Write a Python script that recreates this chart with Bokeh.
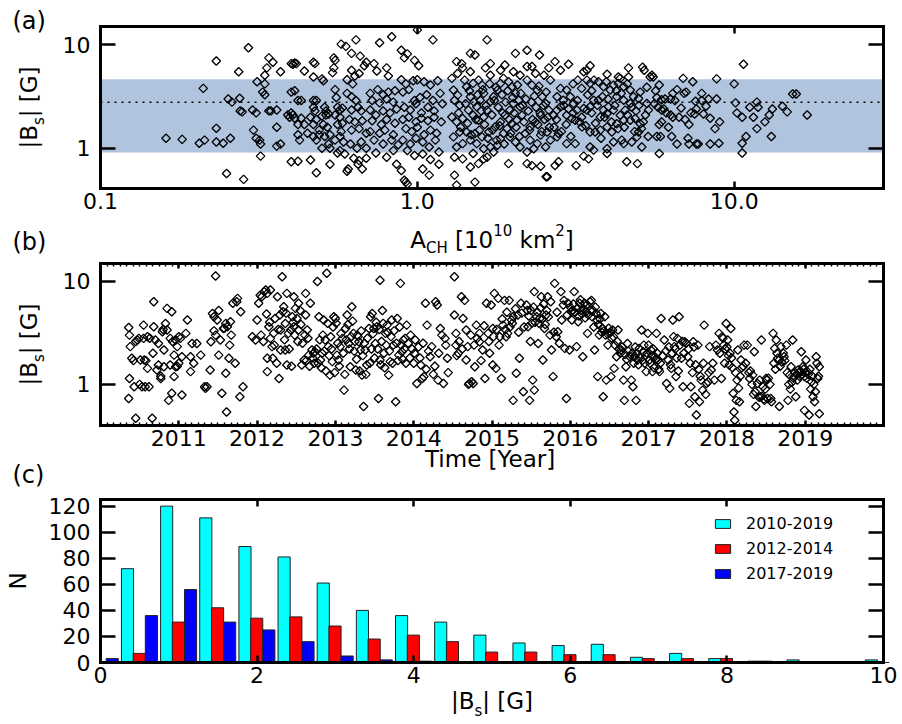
import math
from bokeh.plotting import figure
from bokeh.models import (Label, BoxAnnotation, LinearAxis, LogAxis, FixedTicker,
                          Range1d, Legend, LegendItem, PrintfTickFormatter)
from bokeh.layouts import column
from bokeh.embed import file_html
from bokeh.resources import INLINE

FONT = "DejaVu Sans"

# ---------------- Panel (a): |Bs| versus coronal hole area (A_CH [1e10 km^2], |Bs| [G])
panel_a_pairs = [
    (0.161,1.25),(0.181,1.22),(0.205,1.12),(0.213,1.2),(0.232,1.15),(0.244,1.12),(0.232,1.56),(0.257,1.25),
    (0.211,3.8),(0.232,7.0),(0.25,0.57),(0.283,0.5),(0.293,9.4),(0.273,5.5),
    (0.253,3.0),(0.26,2.8),(0.275,3.05),(0.276,2.3),(0.28,2.25),(0.302,2.35),(0.31,2.2),(0.312,4.4),(0.32,0.84),
    (0.304,1.5),(0.31,1.25),(0.318,1.2),(0.32,1.1),(0.33,4.2),(0.33,5.1),(0.335,6.0),(0.34,7.5),(0.35,6.8),
    (0.33,3.3),(0.325,3.5),(0.34,2.3),(0.345,2.3),(0.36,2.35),(0.36,1.6),(0.36,1.05),(0.37,1.1),(0.37,5.5),
    (0.39,2.1),(0.395,2.0),(0.40,6.6),(0.405,6.5),(0.40,3.5),
    (0.41,6.7),(0.415,6.6),(0.41,3.6),(0.42,2.9),(0.43,2.9),(0.40,2.2),(0.405,2.1),(0.41,1.95),(0.43,1.95),
    (0.42,1.7),(0.44,1.7),(0.42,1.35),(0.425,1.2),(0.40,0.74),(0.42,0.75),(0.46,0.77),(0.44,5.6),(0.47,4.9),
    (0.47,6.8),(0.475,6.6),(0.47,2.9),(0.48,2.9),(0.47,2.5),(0.475,2.3),(0.46,2.0),(0.48,1.9),(0.47,1.7),
    (0.49,1.5),(0.45,1.4),(0.47,1.3),(0.48,1.2),(0.48,0.58),(0.50,4.7),(0.505,4.5),(0.51,2.5),(0.515,2.3),
    (0.50,2.05),(0.515,2.1),(0.525,2.15),(0.505,1.7),(0.52,1.6),(0.49,1.35),(0.51,1.3),(0.53,1.35),(0.50,1.0),
    (0.525,1.1),(0.53,1.0),(0.53,0.7),(0.545,7.5),(0.55,7.1),(0.545,6.0),(0.54,5.4),(0.55,3.7),(0.555,3.1),
    (0.56,2.5),(0.57,2.35),(0.58,2.45),(0.55,2.1),(0.57,2.0),(0.56,1.7),(0.58,1.75),(0.575,1.45),(0.55,1.2),
    (0.57,1.3),(0.585,1.15),(0.56,0.9),(0.57,0.95),(0.59,0.88),(0.60,0.6),(0.605,0.63),(0.575,10.2),(0.595,9.7),
    (0.62,8.3),(0.64,11.2),(0.66,7.8),(0.69,6.8),(0.68,6.3),(0.62,5.7),(0.635,5.0),(0.655,5.3),(0.60,4.6),
    (0.625,4.2),(0.60,3.4),(0.62,3.15),(0.64,2.9),(0.62,2.35),(0.65,2.5),(0.665,2.3),(0.61,1.9),(0.635,1.8),
    (0.67,1.85),(0.62,1.5),(0.655,1.55),(0.69,1.4),(0.615,1.1),(0.645,1.0),(0.665,1.15),(0.69,1.0),(0.63,0.8),
    (0.655,0.76),(0.69,0.8),(0.65,0.7),(0.67,0.63),
    (0.73,6.6),(0.76,10.5),(0.745,5.6),(0.80,6.0),(0.83,12.0),(0.81,5.0),(0.71,3.4),(0.75,3.7),(0.78,3.3),
    (0.81,3.5),(0.85,3.6),(0.72,2.9),(0.76,2.75),(0.80,3.0),(0.84,2.8),(0.71,2.35),(0.74,2.1),(0.78,2.3),
    (0.82,2.2),(0.86,2.4),(0.72,1.85),(0.77,1.7),(0.80,1.9),(0.85,1.75),(0.71,1.45),(0.76,1.4),(0.79,1.5),
    (0.84,1.35),(0.73,1.2),(0.78,1.1),(0.83,1.2),(0.87,1.08),(0.74,0.9),(0.80,0.82),(0.84,0.95),(0.86,0.7),
    (0.89,0.61),(0.91,0.49),(0.92,0.47),(0.93,0.45),(0.89,8.9),(0.91,7.5),(0.93,8.2),(0.98,7.1),(1.01,6.3),
    (1.12,11.2),(1.0,14.0),(0.89,4.6),(0.92,4.2),(0.97,4.5),(1.0,4.6),(1.05,4.4),(1.10,4.1),(1.16,4.5),
    (0.90,3.5),(0.94,3.7),(0.98,2.9),(1.02,3.1),(1.07,3.3),(1.12,2.9),(1.18,3.4),(0.91,2.5),(0.95,2.35),
    (0.99,2.7),(1.03,2.2),(1.08,2.5),(1.13,2.3),(1.20,2.7),(0.90,1.9),(0.94,2.0),(0.99,1.8),(1.03,1.95),
    (1.08,1.85),(1.13,2.0),(1.19,1.8),(0.92,1.55),(0.96,1.45),(1.00,1.6),(1.05,1.35),(1.10,1.5),(1.15,1.4),
    (0.90,1.2),(0.95,1.1),(0.99,1.25),(1.04,1.15),(1.09,1.03),(1.14,1.2),(0.93,0.95),(0.98,0.85),(1.04,0.88),
    (1.10,0.78),(1.17,0.92),(1.04,0.63),(1.09,0.55),(1.17,0.7),
    (1.30,3.66),(1.31,2.92),(1.34,3.27),(1.36,2.61),(1.285,2.01),(1.33,1.80),(1.39,1.94),(1.45,2.34),(1.47,3.15),
    (1.43,3.94),(1.41,4.57),(1.50,4.25),(1.56,4.57),(1.60,4.09),(1.62,3.4),(1.58,2.92),(1.54,2.52),(1.50,2.09),
    (1.56,1.87),(1.62,2.01),(1.66,2.34),(1.70,2.82),(1.74,3.15),(1.79,3.66),(1.83,4.25),(1.87,4.75),(1.94,4.4),
    (1.99,3.94),(2.04,3.4),(2.09,2.92),(2.11,2.52),(2.14,2.09),(2.06,1.87),(1.99,1.73),(1.92,1.55),(1.87,1.39),
    (1.83,1.24),(1.79,1.07),(1.70,1.03),(1.62,0.99),(1.54,1.11),(1.47,1.20),(1.39,1.11),(1.33,1.03),(1.30,1.29),
    (1.36,1.44),(1.43,1.44),(1.52,1.39),(1.60,1.29),(1.68,1.44),(1.76,1.61),(1.83,1.80),(1.89,2.09),(1.96,2.34),
    (2.01,2.71),(2.22,4.57),(2.30,4.09),(2.39,3.66),(2.48,3.15),(2.54,2.71),(2.60,2.34),(2.45,2.09),(2.36,1.80),
    (2.27,1.61),(2.19,1.39),(2.27,1.20),(2.39,1.11),(2.54,1.03),(2.63,1.20),(2.57,1.44),(2.45,1.34),(2.33,0.99),
    (2.22,0.92),(2.11,1.03),(2.04,1.15),(1.96,1.29),(1.74,0.92),(1.66,0.82),(1.50,0.89),(1.39,0.79),(1.31,0.82),
    (1.94,0.71),(2.22,0.71),(2.30,0.68),(2.45,0.67),(2.57,0.53),(1.31,0.55),(1.33,0.44),(1.52,0.47),(1.47,0.66),
    (1.56,0.71),(1.62,0.79),(2.22,6.2),(2.11,5.1),(2.01,5.5),(2.36,5.3),(2.51,5.1),(2.63,4.57),(1.70,5.1),
    (1.64,6.0),(1.47,5.5),(1.39,6.0),(1.34,5.3),(1.285,4.75),(1.33,6.9),(1.38,6.6),(1.47,8.3),(1.52,8.0),
    (1.66,11.2),(1.70,6.6),(1.83,5.7),(1.89,6.4),(2.04,8.3),(2.22,8.9),(2.30,6.2),(2.43,8.0),(2.60,6.0),(2.72,6.9),
    (1.35,2.2),(1.37,1.6),(1.42,2.7),(1.44,1.75),(1.46,3.6),(1.48,1.35),(1.51,2.8),(1.53,1.9),(1.55,3.3),
    (1.57,1.5),(1.59,2.3),(1.61,3.7),(1.63,1.7),(1.65,2.6),(1.67,1.25),(1.69,4.2),(1.72,2.1),(1.73,1.5),
    (1.75,2.9),(1.77,3.9),(1.78,1.2),(1.80,2.5),(1.82,1.65),(1.85,3.3),(1.86,2.2),(1.88,1.1),(1.90,2.8),
    (1.93,3.6),(1.95,1.9),(1.97,1.4),(2.00,3.1),(2.02,2.2),(2.05,1.6),(2.07,4.1),(2.10,1.3),(2.12,3.4),
    (2.15,2.6),(2.17,1.8),(2.20,3.0),(2.24,2.3),(2.26,1.5),(2.29,2.8),(2.31,1.9),(2.34,3.2),(2.37,2.5),
    (2.40,1.7),(2.42,4.0),(2.44,2.2),(2.47,1.45),(2.50,2.6),(2.52,1.9),(2.55,3.5),(2.58,2.0),(2.61,1.6),
    (4.64,6.0),(5.14,6.1),(5.20,5.7),(5.43,4.9),(3.97,5.2),(4.31,4.9),(4.37,4.75),(4.64,4.9),(3.51,6.3),
    (3.43,5.7),(3.35,5.5),(3.21,4.57),(3.0,6.5),(2.83,5.7),
    (3.43,4.57),(3.51,4.25),(3.61,4.57),(3.73,4.4),(3.87,3.94),(3.84,3.15),(3.73,2.92),(3.60,2.92),(3.51,2.52),
    (3.43,2.34),(3.35,2.43),(3.19,2.34),(3.11,2.71),(3.04,3.15),(2.96,3.66),(2.83,3.8),(2.76,3.15),(2.89,2.92),
    (2.83,2.52),(2.76,2.34),(2.69,2.09),(2.96,2.09),(3.07,1.94),(3.15,1.87),(3.31,1.61),(3.51,1.44),(3.64,1.44),
    (3.78,1.50),(3.97,1.61),(4.11,1.44),(4.26,1.73),(4.48,1.87),(4.70,1.87),(4.87,1.94),(5.05,1.73),(5.17,1.80),
    (5.36,2.34),(5.30,2.71),(4.99,3.03),(4.81,3.15),(4.70,3.66),(4.48,3.94),(4.31,4.25),(4.16,4.09),(4.06,3.66),
    (4.26,3.15),(4.48,2.92),(4.70,2.71),(4.53,2.34),(4.37,2.09),(4.16,2.34),(4.01,2.52),(3.87,2.34),(3.78,2.01),
    (3.97,2.17),(2.79,1.39),(2.76,1.29),(2.96,1.11),(3.15,1.11),(3.51,1.03),(3.60,0.96),(3.97,0.89),(3.97,0.99),
    (4.16,1.15),(4.42,1.20),(4.48,1.11),(4.93,1.29),(4.99,1.44),(5.11,1.03),(4.75,1.15),(4.58,0.74),(4.95,0.71),
    (3.17,0.68),(3.35,0.84),(3.47,0.79),(2.72,0.68),(2.79,0.74),(2.55,0.53),
    (2.7,1.6),(2.75,1.9),(2.85,1.45),(2.9,2.6),(2.95,1.7),(3.0,2.4),(3.05,1.3),(3.1,2.2),(3.2,2.9),(3.25,1.8),
    (3.3,2.0),(3.4,1.65),(3.45,3.3),(3.55,2.2),(3.65,1.75),(3.7,2.6),(3.8,1.25),(3.9,2.0),(4.0,3.0),(4.1,1.8),
    (4.2,2.6),(4.3,1.55),(4.4,3.4),(4.5,1.6),(4.6,2.1),(4.75,2.5),(4.85,1.45),(4.9,2.3),(5.0,2.6),(5.1,1.55),
    (5.25,2.1),(5.35,1.3),(3.1,4.2),(3.3,3.8),(3.55,3.6),(3.95,4.4),(4.25,3.6),(4.6,4.2),(5.05,3.5),(5.3,3.9),
    (5.5,5.1),(5.55,4.9),(5.8,4.1),(5.7,3.1),(5.9,2.95),(6.05,3.0),(5.75,2.5),(5.9,2.35),(6.0,2.4),(5.9,1.8),
    (5.8,1.7),(5.7,1.3),(5.85,1.3),(5.8,0.89),(6.3,3.0),(6.4,3.4),(6.5,2.9),(6.3,2.1),(6.4,2.0),(6.35,1.3),
    (6.6,1.1),(6.8,2.45),(6.95,3.4),(7.05,3.5),(6.9,4.75),(7.2,1.7),(7.15,1.25),(7.2,1.1),(7.3,2.2),(7.5,2.15),
    (7.55,2.85),(7.4,4.4),(7.9,3.4),(7.6,1.1),(7.7,1.1),(8.0,2.15),(8.15,2.55),(8.3,3.0),(8.4,1.95),(8.4,1.1),
    (8.8,4.7),(8.8,3.0),(8.7,1.55),(9.0,1.8),(8.95,1.12),(5.6,2.7),(6.1,2.2),(6.2,1.6),(6.7,2.0),(7.0,1.9),
    (7.6,2.4),(5.65,3.6),(6.6,3.7),(7.9,2.9),
    (10.7,6.5),(10.0,4.2),(10.1,2.75),(10.2,2.2),(10.6,2.0),(10.6,1.12),(10.6,0.9),(10.9,1.3),(11.2,2.5),
    (11.8,2.8),(11.9,2.5),(11.5,2.0),(11.8,1.55),(12.5,1.8),(12.9,2.1),(13.2,2.4),(13.1,1.3),(14.2,2.55),
    (14.7,2.25),(15.3,3.35),(15.7,3.35),(17.0,2.1),
]
area_ch = [p[0] for p in panel_a_pairs]
bs_area = [p[1] for p in panel_a_pairs]
bs_mean = 2.79     # dotted line
band_low = 0.91    # shaded band (mean - sigma)
band_high = 4.67   # shaded band (mean + sigma)

# ---------------- Panel (b): |Bs| versus time (decimal year, |Bs| [G])
panel_b_pairs = [
    (2010.36,3.56),(2010.37,3.0),(2010.38,2.32),(2010.40,1.79),(2010.37,1.14),(2010.36,0.73),(2010.43,0.95),
    (2010.45,0.47),(2010.47,2.69),(2010.49,2.79),(2010.51,1.72),(2010.53,0.95),(2010.55,3.75),(2010.55,2.79),
    (2010.56,1.72),(2010.57,0.95),(2010.60,1.43),(2010.60,2.89),(2010.62,0.95),(2010.66,0.47),(2010.67,2.0),
    (2010.68,6.3),(2010.68,3.61),(2010.70,2.69),(2010.72,1.38),(2010.74,2.49),(2010.74,1.54),(2010.77,1.14),
    (2010.79,3.23),(2010.81,2.15),(2010.81,1.48),(2010.83,3.89),(2010.85,3.36),(2010.85,5.44),(2010.87,0.70),
    (2010.89,2.79),(2010.89,1.54),(2010.91,0.82),(2010.91,5.05),(2010.94,1.19),(2010.94,1.92),(2010.96,2.69),
    (2010.96,1.48),(2010.98,2.32),(2011.0,2.89),(2011.0,1.6),(2011.02,2.79),(2011.04,0.79),(2011.04,1.85),
    (2011.09,3.12),(2011.11,4.2),(2011.15,1.85),(2011.15,1.33),(2011.17,2.49),(2011.19,1.6),(2011.23,2.49),
    (2011.28,1.92),(2011.33,0.95),(2011.34,0.915),(2011.36,0.95),(2011.40,1.38),(2011.41,2.59),(2011.43,4.86),
    (2011.45,4.52),(2011.47,11.2),(2011.47,3.0),(2011.49,4.2),(2011.51,5.2),(2011.51,1.92),(2011.53,2.69),
    (2011.55,0.82),(2011.57,3.48),(2011.60,3.89),(2011.60,1.28),(2011.61,0.54),(2011.62,3.61),(2011.64,1.79),
    (2011.66,4.04),(2011.67,3.0),(2011.69,6.1),(2011.72,1.6),(2011.74,6.3),(2011.75,6.8),(2011.78,0.76),
    (2011.79,5.05),(2011.82,0.95),
    (2010.42,1.7),(2010.45,2.6),(2010.50,1.0),(2010.58,1.7),(2010.63,2.8),(2010.77,1.2),(2010.80,3.4),
    (2010.92,2.6),(2010.98,1.5),(2011.45,3.3),(2011.58,3.5),(2011.65,2.4),
    (2011.94,2.89),(2011.98,2.69),(2012.0,4.2),(2012.02,6.1),(2012.04,7.3),(2012.06,7.05),(2012.09,7.9),
    (2012.11,8.2),(2012.13,7.6),(2012.17,8.2),(2012.17,2.79),(2012.13,1.33),(2012.13,1.79),(2012.15,3.61),
    (2012.19,2.32),(2012.20,1.79),(2012.21,3.12),(2012.23,4.35),(2012.26,7.05),(2012.28,1.14),(2012.30,3.36),
    (2012.30,2.15),(2012.32,11.0),(2012.33,5.05),(2012.34,5.65),(2012.36,3.89),(2012.36,2.15),(2012.38,7.6),
    (2012.38,1.54),(2012.40,3.12),(2012.43,3.36),(2012.45,4.52),(2012.47,7.05),(2012.47,3.61),(2012.49,5.44),
    (2012.51,4.35),(2012.53,3.36),(2012.53,6.1),(2012.55,5.2),(2012.57,1.54),(2012.60,1.72),(2012.62,7.6),
    (2012.62,4.69),(2012.64,3.36),(2012.66,1.92),(2012.68,6.1),(2012.70,2.15),(2012.72,2.0),(2012.74,2.07),
    (2012.77,9.9),(2012.79,4.52),(2012.81,1.72),(2012.83,2.0),(2012.85,4.2),(2012.87,2.69),(2012.89,11.9),
    (2012.91,2.32),(2012.93,1.23),(2012.94,2.89),(2012.96,1.66),(2012.98,4.52),(2013.0,4.35),(2013.02,1.92),
    (2013.04,1.72),(2013.06,2.32),(2013.09,2.79),(2013.11,0.88),(2013.13,3.48),(2013.15,4.69),(2013.17,2.49),
    (2013.19,1.48),(2013.21,5.65),(2013.23,3.12),(2013.26,1.38),(2013.28,3.0),(2013.30,2.59),(2013.32,2.15),
    (2013.34,1.23),(2013.36,0.61),(2013.38,2.15),(2013.40,1.54),(2013.43,3.48),(2013.45,4.52),(2013.47,4.86),
    (2013.49,3.48),(2013.51,2.49),(2013.53,3.61),(2013.55,0.73),(2013.57,10.2),(2013.57,1.72),(2013.60,5.2),
    (2013.62,2.0),(2013.64,3.12),(2013.66,3.75),(2013.68,1.23),(2013.70,1.66),(2013.72,4.2),(2013.74,2.40),
    (2013.77,0.68),(2013.79,4.35),(2013.81,1.92),(2013.83,9.5),(2013.85,2.07),(2013.87,2.69),(2013.89,2.79),
    (2013.91,3.75),(2013.96,3.0),(2014.0,1.6),(2014.02,2.69),(2014.04,1.02),(2014.09,1.54),(2014.11,1.14),
    (2014.13,1.19),(2014.15,6.1),(2014.17,3.75),(2014.21,1.85),(2014.23,2.32),(2014.28,6.3),(2014.30,5.86),
    (2014.32,2.0),(2014.34,3.48),(2014.38,1.02),(2014.40,2.79),(2014.43,1.79),
    (2012.05,3.0),(2012.08,2.6),(2012.12,4.8),(2012.16,4.0),(2012.22,2.4),(2012.25,1.6),(2012.27,3.4),
    (2012.29,4.7),(2012.35,2.7),(2012.37,4.9),(2012.41,2.2),(2012.44,1.5),(2012.46,4.0),(2012.48,3.0),
    (2012.52,2.6),(2012.56,3.8),(2012.58,2.5),(2012.61,3.0),(2012.63,1.7),(2012.65,2.8),(2012.67,1.5),
    (2012.71,1.8),(2012.73,1.6),(2012.76,2.2),(2012.78,1.6),(2012.80,2.7),(2012.82,1.45),(2012.84,3.0),
    (2012.86,2.1),(2012.88,1.35),(2012.90,3.9),(2012.92,1.9),(2012.95,2.2),(2012.97,3.6),(2012.99,1.3),
    (2013.01,3.9),(2013.03,2.5),(2013.05,1.5),(2013.07,3.1),(2013.10,2.0),(2013.12,1.25),(2013.14,2.7),
    (2013.16,3.8),(2013.18,2.2),(2013.20,2.9),(2013.22,4.1),(2013.24,2.1),(2013.25,2.6),(2013.27,1.75),
    (2013.29,2.9),(2013.31,1.35),(2013.33,3.3),(2013.35,1.9),(2013.37,2.5),(2013.39,1.25),(2013.41,2.8),
    (2013.44,1.6),(2013.46,2.2),(2013.48,3.1),(2013.50,1.8),(2013.52,4.0),(2013.54,2.2),(2013.56,3.4),
    (2013.58,1.55),(2013.59,2.6),(2013.61,3.9),(2013.63,1.45),(2013.65,2.4),(2013.67,3.2),(2013.69,2.1),
    (2013.71,2.9),(2013.73,1.6),(2013.75,3.3),(2013.78,2.5),(2013.80,1.7),(2013.82,3.6),(2013.84,2.4),
    (2013.86,1.75),(2013.88,2.2),(2013.90,1.6),(2013.93,2.5),(2013.95,1.8),(2013.98,2.2),(2014.01,2.0),
    (2014.06,2.3),(2014.08,1.8),(2014.12,2.5),(2014.16,1.4),(2014.19,2.1),(2014.25,1.25),(2014.27,1.5),
    (2014.31,1.1),(2014.36,3.0),(2014.41,2.4),(2014.44,1.3),
    (2014.52,11.0),(2014.52,4.69),(2014.54,3.12),(2014.54,2.40),(2014.57,2.0),(2014.61,7.05),(2014.63,4.35),
    (2014.65,6.5),(2014.67,3.36),(2014.67,1.72),(2014.69,2.32),(2014.71,1.02),(2014.74,1.06),(2014.76,1.02),
    (2014.78,1.48),(2014.80,3.75),(2014.81,2.79),(2014.84,3.12),(2014.84,2.59),(2014.88,2.15),(2014.91,1.14),
    (2014.93,6.1),(2014.95,3.12),(2014.97,2.0),(2014.99,5.86),(2015.01,3.48),(2015.01,1.54),(2015.03,7.6),
    (2015.05,1.43),(2015.08,6.8),(2015.10,2.89),(2015.12,1.14),(2015.14,3.75),(2015.16,6.5),(2015.18,2.89),
    (2015.20,3.12),(2015.22,6.5),(2015.25,4.2),(2015.27,4.52),(2015.27,0.70),(2015.31,1.28),(2015.33,4.69),
    (2015.35,1.79),(2015.37,6.1),(2015.40,0.85),(2015.44,5.86),(2015.46,3.61),(2015.48,0.70),(2015.50,5.2),
    (2015.52,1.10),(2015.54,7.9),(2015.54,0.88),(2015.57,4.52),(2015.59,2.49),(2015.61,4.35),(2015.63,7.05),
    (2015.65,1.72),(2015.67,3.48),(2015.69,4.69),(2015.71,7.05),(2015.74,3.0),(2015.76,2.15),(2015.78,1.19),
    (2015.80,9.5),(2015.82,2.89),(2015.84,3.23),(2015.88,7.9),(2015.91,5.86),(2015.93,2.23),(2015.95,0.73),
    (2015.97,6.1),(2015.99,2.15),(2016.01,5.05),(2016.03,5.2),(2016.05,7.9),(2016.08,2.32),(2016.10,4.04),
    (2016.12,6.1),(2016.14,5.2),(2016.16,1.85),(2016.18,6.1),(2016.20,5.05),(2016.22,3.12),(2016.25,6.3),
    (2016.27,6.5),(2016.29,5.2),(2016.31,2.15),(2016.33,4.86),(2016.35,1.19),(2016.37,3.0),(2016.39,4.86),
    (2016.42,0.76),(2016.44,4.52),(2016.45,3.0),(2016.46,1.10),(2016.48,2.40),(2016.50,3.12),(2016.52,1.19),
    (2016.54,3.36),(2016.56,1.43),(2016.59,1.85),(2016.61,3.36),(2016.65,2.15),(2016.69,0.70),(2016.71,1.48),
    (2016.73,2.49),(2016.78,1.10),(2016.80,0.95),(2016.82,1.85),(2016.84,0.70),(2016.86,1.72),(2016.88,2.23),
    (2016.91,3.36),(2016.93,2.07),(2016.95,1.6),(2016.97,1.33),(2016.99,3.12),(2017.01,1.72),(2017.03,2.15),
    (2017.05,1.33),(2017.08,1.85),(2017.10,3.12),(2017.12,1.72),(2017.14,1.33),(2017.16,4.35),(2017.20,2.69),
    (2017.23,1.02),(2017.25,1.72),(2017.27,0.915),(2017.29,1.43),(2017.31,4.2),(2017.33,2.32),(2017.35,1.19),
    (2017.37,2.79),(2017.39,4.52),(2017.42,1.79),(2017.44,0.95),(2017.46,2.59),(2017.50,1.85),(2017.52,0.655),
    (2017.54,0.95),(2017.57,2.59),(2017.59,0.76),(2017.61,0.505),(2017.63,2.40),(2017.65,0.68),(2017.67,1.10),
    (2017.69,0.88),(2017.71,3.75),(2017.74,1.02),(2017.76,1.06),(2017.78,2.32),(2017.80,1.38),(2017.84,1.10),
    (2017.88,2.15),(2017.90,3.12),(2017.93,1.14),(2017.95,2.79),(2017.97,1.6),(2017.99,3.89),(2018.01,2.69),
    (2018.03,1.54),(2018.05,3.48),(2018.08,0.82),(2018.09,0.54),(2018.10,0.45),(2018.12,0.70),(2018.14,2.15),
    (2018.16,0.68),(2018.18,1.72),(2018.22,2.40),(2018.26,2.40),(2018.29,1.14),(2018.33,1.23),(2018.35,2.07),
    (2018.37,0.61),(2018.39,1.02),(2018.42,1.10),(2018.44,2.69),(2018.46,0.95),(2018.48,0.70),(2018.50,1.14),
    (2018.52,0.73),(2018.56,0.73),(2018.59,3.12),(2018.61,2.23),(2018.63,2.69),(2018.65,1.79),(2018.67,0.61),
    (2018.69,2.32),(2018.73,1.85),(2018.76,2.40),(2018.78,0.70),(2018.80,1.23),(2018.82,1.48),(2018.84,2.69),
    (2018.86,1.19),(2018.88,0.76),(2018.91,1.38),(2018.93,1.19),(2018.95,2.07),(2018.97,1.48),(2018.99,1.19),
    (2018.99,0.56),(2019.01,1.72),(2019.03,1.33),(2019.05,0.505),(2019.08,1.06),(2019.10,0.76),(2019.12,0.68),
    (2019.14,1.85),(2019.16,1.14),(2019.18,1.48),(2019.18,0.52),
    (2014.55,1.9),(2014.58,2.6),(2014.62,2.2),(2014.70,1.0),(2014.73,3.0),(2014.77,2.4),(2014.86,1.7),
    (2014.90,3.7),(2014.96,2.6),(2015.02,2.9),(2015.06,3.4),(2015.09,2.4),(2015.13,4.3),(2015.17,3.4),
    (2015.19,5.0),(2015.23,3.6),(2015.26,3.9),(2015.30,5.4),(2015.34,3.2),(2015.38,4.9),(2015.41,3.6),
    (2015.45,5.2),(2015.47,4.6),(2015.49,2.6),(2015.51,3.9),(2015.53,5.6),(2015.55,4.0),(2015.58,5.0),
    (2015.60,3.9),(2015.62,5.5),(2015.64,4.3),(2015.66,6.0),(2015.68,3.8),(2015.70,5.2),(2015.72,4.5),
    (2015.75,6.3),(2015.79,3.2),(2015.83,5.0),(2015.86,2.5),(2015.89,4.2),(2015.92,6.5),(2015.96,4.7),
    (2016.00,5.6),(2016.02,4.2),(2016.04,6.0),(2016.06,5.0),(2016.09,5.5),(2016.11,4.6),(2016.13,6.6),
    (2016.15,4.8),(2016.17,5.4),(2016.19,4.4),(2016.21,5.9),(2016.23,4.7),(2016.26,5.2),(2016.28,4.5),
    (2016.30,3.6),(2016.32,5.6),(2016.34,4.2),(2016.36,3.8),(2016.38,4.3),(2016.40,3.2),(2016.41,3.5),
    (2016.43,3.3),(2016.47,3.1),(2016.49,3.5),(2016.51,3.2),(2016.53,2.8),(2016.55,2.9),(2016.57,2.4),
    (2016.60,2.6),(2016.62,2.2),(2016.64,2.0),(2016.66,2.3),(2016.68,1.1),(2016.70,1.95),(2016.72,1.75),
    (2016.74,2.1),(2016.76,1.85),(2016.79,2.0),(2016.81,1.6),(2016.83,2.3),(2016.85,2.0),(2016.87,1.55),
    (2016.89,1.85),(2016.92,1.7),(2016.94,2.4),(2016.96,1.9),(2016.98,2.0),(2017.00,2.4),(2017.02,1.6),
    (2017.04,1.9),(2017.06,2.2),(2017.07,1.45),(2017.09,1.75),(2017.11,2.0),(2017.13,1.4),(2017.15,1.6),
    (2017.18,1.9),(2017.22,2.1),(2017.26,2.3),(2017.28,1.55),(2017.30,2.0),(2017.32,2.9),(2017.34,2.2),
    (2017.36,1.8),(2017.38,1.35),(2017.40,2.4),(2017.43,2.6),(2017.45,2.0),(2017.48,2.5),(2017.51,2.2),
    (2017.53,1.6),(2017.56,1.3),(2017.58,2.3),(2017.60,1.55),(2017.64,1.4),(2017.66,1.2),(2017.70,1.6),
    (2017.73,0.8),(2017.77,1.3),(2017.82,1.6),(2017.86,2.4),(2017.91,2.0),(2017.94,2.9),(2017.96,2.4),
    (2017.98,2.2),(2018.00,2.3),(2018.02,1.9),(2018.04,2.0),(2018.06,1.8),(2018.07,1.45),(2018.11,1.3),
    (2018.13,1.1),(2018.15,0.92),(2018.17,1.2),(2018.19,1.45),(2018.21,1.5),(2018.24,1.6),(2018.28,1.3),
    (2018.30,1.35),(2018.32,1.0),(2018.34,0.8),(2018.36,0.85),(2018.41,0.75),(2018.43,0.76),(2018.45,0.77),
    (2018.47,0.72),(2018.49,0.9),(2018.51,1.1),(2018.53,1.15),(2018.55,1.0),(2018.57,0.68),(2018.60,1.6),
    (2018.62,1.4),(2018.64,2.0),(2018.66,1.7),(2018.68,1.5),(2018.70,1.65),(2018.72,2.0),(2018.74,1.7),
    (2018.77,1.3),(2018.79,1.0),(2018.81,0.9),(2018.83,1.05),(2018.85,1.15),(2018.87,1.3),(2018.89,1.25),
    (2018.90,1.1),(2018.92,1.3),(2018.94,1.35),(2018.96,1.25),(2018.98,1.4),(2019.00,1.3),(2019.02,1.15),
    (2019.04,1.25),(2019.06,1.4),(2019.07,0.9),(2019.09,1.2),(2019.11,1.0),(2019.13,0.85),(2019.15,1.6),
    (2019.17,1.2),
]
year = [p[0] for p in panel_b_pairs]
bs_time = [p[1] for p in panel_b_pairs]

# ---------------- Panel (c): histograms of |Bs| (bins of 0.5 G)
bin_starts = [0.0, 0.5, 1.0, 1.5, 2.0, 2.5, 3.0, 3.5, 4.0, 4.5,
              5.0, 5.5, 6.0, 6.5, 7.0, 7.5, 8.0, 8.5, 9.0, 9.5]
n_2010_2019 = [72, 120, 111, 89, 81, 61, 40, 36, 31, 21, 15, 13, 14, 4, 7, 3, 1, 2, 0, 2]
n_2012_2014 = [7, 31, 42, 34, 35, 28, 18, 21, 16, 8, 8, 6, 6, 3, 3, 3, 1, 0, 0, 0]
n_2017_2019 = [3, 36, 56, 31, 25, 16, 5, 2, 1, 0, 0, 0, 0, 0, 0, 0, 0, 0, 0, 0]
series_labels = ["2010-2019", "2012-2014", "2017-2019"]

# axis extents (data) of the three plot boxes
a_x, a_y = (0.1, 29.6), (0.408, 15.1)
b_x, b_y = (2010, 2020), (0.40, 14.8)
c_x, c_y = (0, 10), (0, 125.1)

# ---------------- helpers
W = {'A': 0.684, 'C': 0.698, 'H': 0.752, 'B': 0.686, 'G': 0.775, 'N': 0.748, 'T': 0.611, 'Y': 0.611,
     'a': 0.613, 'e': 0.615, 'i': 0.278, 'k': 0.579, 'm': 0.974, 'r': 0.411, 's': 0.521, 'b': 0.635,
     'c': 0.550, ' ': 0.318, '[': 0.390, ']': 0.390, '|': 0.337, '-': 0.361, '(': 0.390, ')': 0.390}
for d in "0123456789":
    W[d] = 0.636

FIG_W = 902
BOX_L, BOX_R = 100, 883   # pixel columns of every plot box
RAISE = 0.22              # baseline correction of Label text (fraction of font size)


def tw(s, size):
    return sum(W.get(c, 0.6) for c in s) * size


def extend(lim, pad_lo, pad_hi, span, log=False):
    lo, hi = lim
    a, b = (math.log10(lo), math.log10(hi)) if log else (lo, hi)
    k = (b - a) / span
    s, e = a - pad_lo * k, b + pad_hi * k
    return (10 ** s, 10 ** e) if log else (s, e)


def add_text(fig, pieces, x, y, rotated=False):
    total = sum(tw(t, s) for t, s, _ in pieces)
    pos = -total / 2.0
    for t, s, d in pieces:
        lead = len(t) - len(t.lstrip(" "))
        pos += lead * W[" "] * s
        t = t.lstrip(" ")
        d = d + RAISE * s
        if rotated:
            lab = Label(x=x - d, y=y + pos, angle=math.pi / 2)
        else:
            lab = Label(x=x + pos, y=y + d)
        lab.x_units = "screen"
        lab.y_units = "screen"
        lab.text = t
        lab.text_font = FONT
        lab.text_font_size = f"{s}px"
        lab.text_color = "black"
        lab.text_align = "left"
        lab.text_baseline = "alphabetic"
        fig.add_layout(lab)
        pos += tw(t, s)


def panel_tag(fig, txt, x, y):
    fig.add_layout(Label(x=x, y=y + RAISE * 24, x_units="screen", y_units="screen", text=txt,
                         text_font=FONT, text_font_size="24px", text_color="black", text_align="left",
                         text_baseline="alphabetic"))


def make_axis(fig, side, cls, ticks, loc, bounds, tick_in, fmt=None, labels=True, standoff=5,
              minor=None, minor_in=0):
    ax = cls(ticker=FixedTicker(ticks=ticks, minor_ticks=minor or []), fixed_location=loc, bounds=bounds)
    ax.axis_line_color = "black"
    ax.axis_line_width = 3
    ax.axis_line_cap = "square"
    ax.major_tick_in = tick_in
    ax.major_tick_out = 0
    ax.major_tick_line_color = "black"
    ax.major_tick_line_width = 2.5
    if minor_in:
        ax.minor_tick_in = minor_in
        ax.minor_tick_out = 0
        ax.minor_tick_line_color = "black"
        ax.minor_tick_line_width = 1.5
    else:
        ax.minor_tick_line_color = None
    if fmt:
        ax.formatter = PrintfTickFormatter(format=fmt)
    ax.major_label_text_font = FONT
    ax.major_label_standoff = standoff
    ax.major_label_text_font_size = "22px"
    ax.major_label_text_color = "black" if labels else None
    fig.add_layout(ax, side)
    return ax


def base_fig(height, top, bottom, xlim, ylim, xlog=False, ylog=False):
    span_y = height - top - bottom
    xr = extend(xlim, BOX_L, FIG_W - BOX_R, BOX_R - BOX_L, xlog)
    yr = extend(ylim, bottom, top, span_y, ylog)
    p = figure(width=FIG_W, height=height, output_backend="svg", toolbar_location=None,
               x_axis_type="log" if xlog else "linear", y_axis_type="log" if ylog else "linear",
               x_axis_location=None, y_axis_location=None,
               x_range=Range1d(*xr), y_range=Range1d(*yr),
               min_border=0, min_border_left=0, min_border_right=0, min_border_top=0, min_border_bottom=0)
    p.xgrid.visible = False
    p.ygrid.visible = False
    p.outline_line_color = None
    p.background_fill_color = "white"
    p.border_fill_color = "white"
    return p


# page layout: panel (a) rows 0-258, (b) rows 258-490, (c) rows 490-724
TA, HA = 0, 258
TB, HB = 258, 232
TC, HC = 490, 234

# ---------------- Panel (a)   (box rows 26-188)
pa = base_fig(HA, 26 - TA, TA + HA - 188, a_x, a_y, xlog=True, ylog=True)
pa.add_layout(BoxAnnotation(left=a_x[0], right=a_x[1], bottom=band_low, top=band_high,
                            fill_color="#B0C4DE", fill_alpha=1.0, line_color=None, level="underlay"))
pa.line(x=list(a_x), y=[bs_mean, bs_mean], line_color="black", line_dash="2 5", line_width=1.5)
pa.scatter(area_ch, bs_area, marker="square", angle=math.pi / 4, size=6, fill_color=None,
           line_color="black", line_width=1.3)
xa_ticks = [0.1, 1.0, 10.0]
b_ticks = [1, 10]
make_axis(pa, "below", LogAxis, xa_ticks, a_y[0], a_x, 7, "%.1f", standoff=4)
make_axis(pa, "above", LogAxis, xa_ticks, a_y[1], a_x, 7, labels=False)
make_axis(pa, "left", LogAxis, b_ticks, a_x[0], a_y, 15, "%d", standoff=10)
make_axis(pa, "right", LogAxis, b_ticks, a_x[1], a_y, 15, labels=False)
add_text(pa, [("A", 23, 0), ("CH", 15, -6), (" [10", 23, 0), ("10", 15, 12), (" km", 23, 0),
              ("2", 15, 12), ("]", 23, 0)], 491.5, HA - (245 - TA))
add_text(pa, [("|B", 23, 0), ("s", 15, -8), ("| [G]", 23, 0)], 34, HA - (107 - TA), rotated=True)
panel_tag(pa, "(a)", 12, HA - (26 - TA))
panel_tag(pa, "(b)", 12, HA - (247 - TA))

# ---------------- Panel (b)   (box rows 263-425)
pb = base_fig(HB, 263 - TB, TB + HB - 425, b_x, b_y, ylog=True)
pb.scatter(year, bs_time, marker="square", angle=math.pi / 4, size=6, fill_color=None,
           line_color="black", line_width=1.3)
year_ticks = [2011, 2012, 2013, 2014, 2015, 2016, 2017, 2018, 2019]
month_ticks = [2010 + m / 12.0 for m in range(121)]
make_axis(pb, "below", LinearAxis, year_ticks, b_y[0], b_x, 5, "%d", standoff=4,
          minor=month_ticks, minor_in=3)
make_axis(pb, "above", LinearAxis, year_ticks, b_y[1], b_x, 5, labels=False,
          minor=month_ticks, minor_in=3)
make_axis(pb, "left", LogAxis, b_ticks, b_x[0], b_y, 15, "%d", standoff=10)
make_axis(pb, "right", LogAxis, b_ticks, b_x[1], b_y, 15, labels=False)
add_text(pb, [("Time [Year]", 23, 0)], 491.5, HB - (463.5 - TB))
add_text(pb, [("|B", 23, 0), ("s", 15, -8), ("| [G]", 23, 0)], 34, HB - (344 - TB), rotated=True)
panel_tag(pb, "(c)", 12, HB - (480 - TB))

# ---------------- Panel (c)   (box rows 499-662)
pc = base_fig(HC, 499 - TC, TC + HC - 662, c_x, c_y)
bar_w = 0.155
x_all = [b + 0.345 for b in bin_starts]
x_mid = [b + 0.495 for b in bin_starts]
x_late = [b + 0.15 for b in bin_starts]
r1 = pc.vbar(x=x_all, top=n_2010_2019, width=bar_w, bottom=0, fill_color="#00FFFF",
             line_color="#222222", line_width=1)
r2 = pc.vbar(x=x_mid, top=n_2012_2014, width=bar_w, bottom=0, fill_color="#FF0000",
             line_color="#222222", line_width=1)
r3 = pc.vbar(x=x_late, top=n_2017_2019, width=bar_w, bottom=0, fill_color="#0000FF",
             line_color="#222222", line_width=1)
xc_ticks = [0, 2, 4, 6, 8, 10]
n_ticks = [0, 20, 40, 60, 80, 100, 120]
make_axis(pc, "below", LinearAxis, xc_ticks, c_y[0], c_x, 7, "%d", standoff=4)
make_axis(pc, "above", LinearAxis, xc_ticks, c_y[1], c_x, 7, labels=False)
make_axis(pc, "left", LinearAxis, n_ticks, c_x[0], c_y, 15, "%d", standoff=10)
make_axis(pc, "right", LinearAxis, n_ticks, c_x[1], c_y, 15, labels=False)
legend = Legend(items=[LegendItem(label=series_labels[0], renderers=[r1]),
                       LegendItem(label=series_labels[1], renderers=[r2]),
                       LegendItem(label=series_labels[2], renderers=[r3])],
                location=(713, HC - (583.5 - TC)), glyph_width=19, glyph_height=11, label_standoff=14,
                label_text_font=FONT, label_text_font_size="16px", label_text_color="black",
                label_height=21, spacing=4, padding=0, margin=0, border_line_color=None,
                background_fill_alpha=0.0)
pc.add_layout(legend, "center")
add_text(pc, [("|B", 23, 0), ("s", 15, -8), ("| [G]", 23, 0)], 491.5, HC - (706 - TC))
add_text(pc, [("N", 23, 0)], 23, HC - (580.5 - TC), rotated=True)

layout = column(pa, pb, pc)
open("out.html", "w").write(file_html(layout, INLINE))
